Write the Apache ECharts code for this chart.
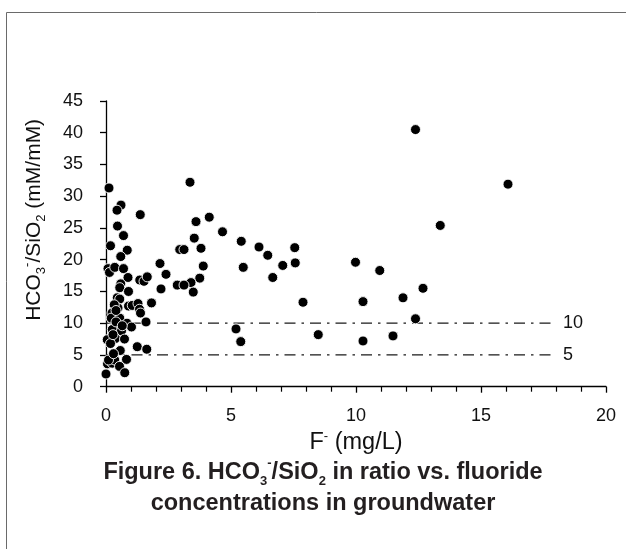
<!DOCTYPE html>
<html>
<head>
<meta charset="utf-8">
<script src="https://cdn.jsdelivr.net/npm/echarts@6/dist/echarts.min.js"></script>
<style>
  html, body { margin: 0; padding: 0; background: #fff; }
  #chart { width: 626px; height: 549px; }
</style>
</head>
<body>
<div id="chart"></div>
<script>
// F- (mg/L) vs HCO3-/SiO2 (mM/mM)
const fluoride = [
  0.12, 0.6, 0.44, 1.37, 0.46, 0.18, 0.7, 0.85, 0.59, 0.08, 0.14, 0.35, 0.7, 0.88, 0.59, 0.55, 0.9,
  1.35, 1.52, 1.65, 0.45, 0.55, 0.48, 0.33, 0.9, 1.05, 1.28, 1.34, 1.38, 1.6, 0.24, 0.21, 0.55, 0.84,
  1.02, 0.25, 0.62, 0.05, 0.38, 0.74, 0.18, 1.25, 1.63, 0.57, 0.82, 0.06, 0.25, 0.35, 0.54, 0.75, 0.0,
  0.1, 0.4, 0.3, 0.65, 0.4, 0.28,
  2.16, 2.4, 2.2, 1.82, 3.36, 4.13, 3.6, 4.66, 3.53, 3.8, 2.95, 3.12, 3.89, 3.75, 3.4, 3.49, 2.85, 3.12,
  5.41, 5.49, 6.12, 6.47, 6.67, 7.07, 7.55, 7.57, 7.88, 5.2, 5.39, 8.49, 9.98, 10.28, 10.28, 10.95,
  11.88, 11.48, 12.38, 12.68, 13.37, 16.08, 12.38
];
const ratio = [
  31.3, 28.6, 27.8, 27.1, 25.3, 22.2, 23.8, 21.5, 20.5, 18.6, 18.0, 18.8, 18.6, 17.2, 16.2, 15.6, 15.0,
  16.8, 16.6, 17.3, 14.0, 13.8, 12.4, 12.9, 12.7, 12.8, 13.1, 12.2, 11.6, 10.2, 11.6, 10.8, 10.8, 10.0,
  9.4, 9.0, 8.8, 7.4, 7.6, 7.5, 6.8, 6.3, 5.9, 5.7, 4.3, 3.6, 3.7, 4.2, 3.2, 2.2, 2.0,
  4.2, 10.2, 5.2, 9.6, 12.0, 8.2,
  19.4, 17.7, 15.4, 13.2, 32.2, 26.7, 26.0, 24.4, 23.4, 21.8, 21.6, 21.6, 19.0, 17.1, 16.4, 14.9, 16.0, 16.0,
  22.9, 18.8, 22.0, 20.7, 17.2, 19.1, 21.9, 19.5, 13.3, 9.1, 7.1, 8.2, 19.6, 13.4, 7.2, 18.3,
  14.0, 8.0, 10.7, 15.5, 25.4, 31.9, 40.5
];
const refLevels = [10, 5];
const refXRange = [0, 18];
const xTicks = [0, 5, 10, 15, 20];
const yTicks = [0, 5, 10, 15, 20, 25, 30, 35, 40, 45];

const points = fluoride.map((x, i) => [x, ratio[i]]);

const textColor = '#111';
const fontFam = '"Liberation Sans", Arial, sans-serif';

const refSeries = refLevels.map(level => ({
  type: 'line',
  data: [[refXRange[0], level], [refXRange[1], level]],
  symbol: 'none',
  silent: true,
  z: 1,
  lineStyle: { color: '#1a1a1a', width: 1.3, type: [11, 6, 2.5, 6] },
  endLabel: {
    show: true,
    formatter: String(level),
    distance: 7,
    color: textColor,
    fontSize: 18,
    fontFamily: fontFam
  }
}));

const chart = echarts.init(document.getElementById('chart'), null, { renderer: 'canvas' });
chart.setOption({
  animation: false,
  backgroundColor: '#fff',
  graphic: [{
    type: 'rect',
    shape: { x: 6.5, y: 12.5, width: 700, height: 700 },
    style: { fill: 'none', stroke: '#6a6a6a', lineWidth: 1 },
    silent: true,
    z: -10
  }],
  title: {
    text: 'Figure 6. HCO{sub|3}{sup|-}/SiO{sub|2} in ratio vs. fluoride\nconcentrations in groundwater',
    left: 318,
    top: 452,
    textAlign: 'center',
    textStyle: {
      fontFamily: fontFam,
      fontSize: 23.5,
      fontWeight: 'bold',
      color: '#231f20',
      lineHeight: 31,
      rich: {
        sub: { fontSize: 13, fontWeight: 'bold', color: '#231f20', lineHeight: 13, verticalAlign: 'bottom', fontFamily: fontFam },
        sup: { fontSize: 13, fontWeight: 'bold', color: '#231f20', lineHeight: 13, verticalAlign: 'top', fontFamily: fontFam }
      }
    }
  },
  grid: { left: 106, right: 20, top: 101, bottom: 162.3, containLabel: false },
  xAxis: {
    type: 'value',
    min: 0, max: 20, interval: 5,
    name: '{n|F}{sup|-}{n| (mg/L)}',
    nameLocation: 'middle',
    nameGap: 43,
    nameTextStyle: {
      rich: {
        n: { fontSize: 23.5, fontFamily: fontFam, color: textColor, lineHeight: 26 },
        sup: { fontSize: 13, fontFamily: fontFam, color: textColor, lineHeight: 13, verticalAlign: 'top' }
      }
    },
    axisLine: { show: true, lineStyle: { color: '#000', width: 1.3 } },
    axisTick: { show: true, length: 6, lineStyle: { color: '#000', width: 1.3 } },
    minorTick: { show: true, splitNumber: 5, length: 5, lineStyle: { color: '#000', width: 1.2 } },
    splitLine: { show: false },
    axisLabel: {
      margin: 20, fontSize: 18, color: textColor, fontFamily: fontFam,
      customValues: xTicks
    }
  },
  yAxis: {
    type: 'value',
    min: 0, max: 45, interval: 5,
    name: '{n|HCO}{sub|3}{sup|-}{n|/SiO}{sub|2}{n| (mM/mM)}',
    nameLocation: 'middle',
    nameRotate: 90,
    nameGap: 58,
    nameTextStyle: {
      padding: [0, 0, 0, 48],
      rich: {
        n: { fontSize: 21, fontFamily: fontFam, color: textColor, lineHeight: 27 },
        sub: { fontSize: 13, fontFamily: fontFam, color: textColor, lineHeight: 13, verticalAlign: 'bottom' },
        sup: { fontSize: 13, fontFamily: fontFam, color: textColor, lineHeight: 13, verticalAlign: 'top' }
      }
    },
    axisLine: { show: true, lineStyle: { color: '#000', width: 1.3 } },
    axisTick: { show: true, length: 6, lineStyle: { color: '#000', width: 1.3 } },
    splitLine: { show: false },
    axisLabel: {
      margin: 23, fontSize: 18, color: textColor, fontFamily: fontFam,
      customValues: yTicks
    }
  },
  series: [
    ...refSeries,
    {
      type: 'scatter',
      data: points,
      symbol: 'circle',
      symbolSize: 10,
      z: 3,
      itemStyle: { color: '#000', borderColor: '#fff', borderWidth: 0.9, opacity: 1 }
    }
  ]
});
</script>
</body>
</html>
